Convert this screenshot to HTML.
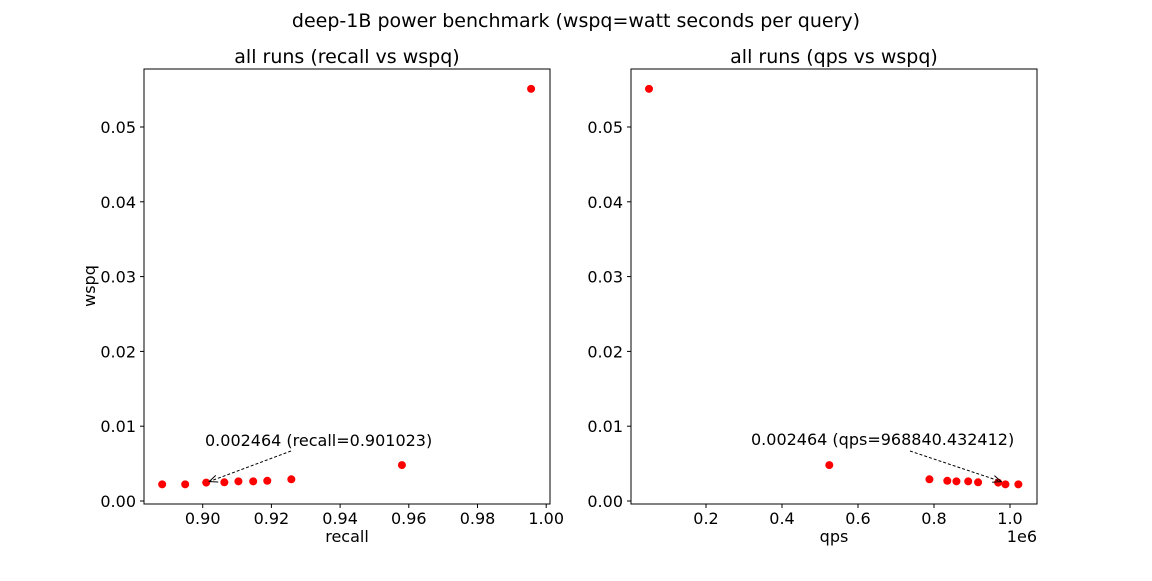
<!DOCTYPE html>
<html><head><meta charset="utf-8"><style>
body{margin:0;background:#fff;font-family:"Liberation Sans","DejaVu Sans",sans-serif}
svg text{font-family:"DejaVu Sans","Liberation Sans",sans-serif;fill:#000}
</style></head><body>
<svg id="c" width="1152" height="576" viewBox="0 0 1152 576"></svg>
<script>
const recall=[0.8882,0.8949,0.901023,0.9063,0.9104,0.9147,0.9188,0.9258,0.958,0.9956];
const wspqLeft=[0.00223,0.00223,0.002464,0.0025,0.00263,0.00263,0.0027,0.0029,0.0048,0.0551];
const qps=[0.05,0.5245,0.788,0.835,0.859,0.890,0.916,0.96884043,0.988,1.022];
const wspqRight=[0.0551,0.0048,0.0029,0.0027,0.00263,0.00263,0.0025,0.002464,0.00223,0.00223];
const leftXTicks=[0.90,0.92,0.94,0.96,0.98,1.00];
const leftXLabels=["0.90","0.92","0.94","0.96","0.98","1.00"];
const rightXTicks=[0.2,0.4,0.6,0.8,1.0];
const rightXLabels=["0.2","0.4","0.6","0.8","1.0"];
const yTicks=[0,0.01,0.02,0.03,0.04,0.05];
const yLabels=["0.00","0.01","0.02","0.03","0.04","0.05"];

const svg=document.getElementById('c');
const NS='http://www.w3.org/2000/svg';
function mk(t,a,txt){const e=document.createElementNS(NS,t);for(const k in a)e.setAttribute(k,a[k]);if(txt!==undefined)e.textContent=txt;svg.appendChild(e);return e;}
const yS=v=>501-v*7480;
const lx=v=>202.7+(v-0.9)*3435;
const rx=v=>630+v*380;

let t=mk('text',{x:576,y:27,'font-size':19,'text-anchor':'middle'},'deep-1B power benchmark (wspq=watt seconds per query)');


function panel(x0,x1,xs,xt,xl,xv,yv,title,xlabel,ylabel,ann,name){
  let r=mk('rect',{x:x0,y:69,width:x1-x0,height:435,fill:'none',stroke:'#000','stroke-width':1});
  
  let tt=mk('text',{x:(x0+x1)/2,y:63,'font-size':19,'text-anchor':'middle'},title);
  
  xt.forEach((v,i)=>{const x=xs(v);
    let l=mk('line',{x1:x,x2:x,y1:504,y2:508,stroke:'#000'});
    let tx=mk('text',{x:x,y:524,'font-size':16,'text-anchor':'middle'},xl[i]);});
  yTicks.forEach((v,i)=>{const y=yS(v);
    let l=mk('line',{x1:x0-4,x2:x0,y1:y,y2:y,stroke:'#000'});
    let tx=mk('text',{x:x0-8,y:y+6,'font-size':16,'text-anchor':'end'},yLabels[i]);});
  let xa=mk('text',{x:(x0+x1)/2,y:542,'font-size':16,'text-anchor':'middle'},xlabel);
  
  if(ylabel){let ya=mk('text',{x:0,y:0,'font-size':16,'text-anchor':'middle',transform:'translate(95,286) rotate(-90)'},ylabel);
    }
  xv.forEach((v,i)=>{let c=mk('circle',{cx:xs(v),cy:yS(yv[i]),r:4,fill:'#f00'});
    });
  const p=ann.pt;const px=xs(xv[p]),py=yS(yv[p]);
  let al=mk('line',{x1:ann.lx,y1:ann.ly,x2:px+3,y2:py-1,stroke:'#000','stroke-dasharray':'3,2','stroke-width':1});
  
  const ang=Math.atan2(py-1-ann.ly,px+3-ann.lx);
  const hx=px+3,hy=py-1;
  let ah=mk('polyline',{points:`${hx-9*Math.cos(ang-0.4)},${hy-9*Math.sin(ang-0.4)} ${hx},${hy} ${hx-9*Math.cos(ang+0.4)},${hy-9*Math.sin(ang+0.4)}`,fill:'none',stroke:'#000'});
  
  let at=mk('text',{x:ann.tx,y:ann.ty,'font-size':16},ann.text);
  
}
panel(144,550,lx,leftXTicks,leftXLabels,recall,wspqLeft,'all runs (recall vs wspq)','recall','wspq',
  {pt:2,lx:291,ly:451,tx:205,ty:446,text:'0.002464 (recall=0.901023)'},'left-panel');
panel(631,1037,rx,rightXTicks,rightXLabels,qps,wspqRight,'all runs (qps vs wspq)','qps',null,
  {pt:7,lx:910,ly:451,tx:751,ty:445,text:'0.002464 (qps=968840.432412)'},'right-panel');
let ex=mk('text',{x:1037,y:542,'font-size':16,'text-anchor':'end'},'1e6');

</script>
</body></html>
